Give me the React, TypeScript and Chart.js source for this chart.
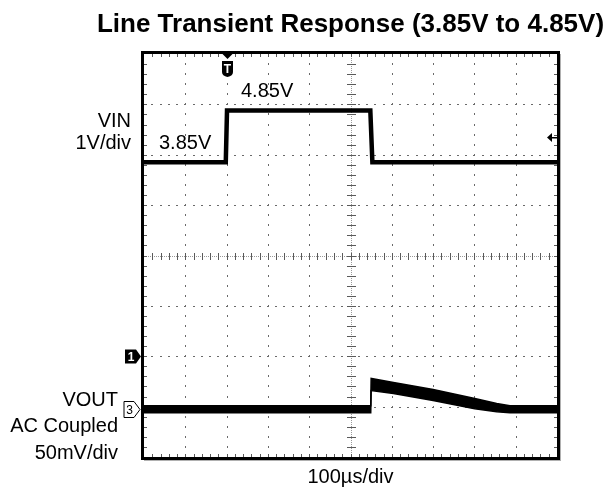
import React, { useEffect, useRef } from "react";
import { Chart, registerables } from "chart.js";

Chart.register(...registerables);

// ---- data ----
const TITLE = "Line Transient Response (3.85V to 4.85V)";
// time in µs, trigger at 0, 100 µs/div, 10 div
const timeRange = [-200, 800];
// VIN (channel 1), volts, 1 V/div
const vinTime = [-200, -2, 1, 348, 353, 800];
const vinVolts = [3.85, 3.85, 4.88, 4.88, 3.85, 3.85];
const vinRange = [-2, 6];
const triggerLevel = 4.35;
// VOUT (channel 3), AC coupled, mV, 50 mV/div: envelope of the noisy trace
const voutTime = [-200, 349, 350, 404, 500, 601, 654, 686, 800];
const voutMax = [2.8, 2.8, 30, 26, 19, 10, 5, 2.8, 2.8];
const voutMin = [-4, -4, 18, 15, 8, 0, -3, -4, -4];
const voutRange = [-48, 352];
// division counts
const xDivs = 10;
const yDivs = 8;
const minorPerDiv = 5;

const FONT = "'Liberation Sans', Arial, Helvetica, sans-serif";

const scopePlugin = {
  id: "scope",
  beforeDatasetsDraw(chart: any) {
    const { ctx, chartArea: a, scales } = chart;
    const xs = scales.x;
    const ys = scales.yVin;
    const xStep = (timeRange[1] - timeRange[0]) / xDivs;
    const yStep = (vinRange[1] - vinRange[0]) / yDivs;
    const xCenter = timeRange[0] + xStep * (xDivs / 2);
    const yCenter = vinRange[0] + yStep * (yDivs / 2);
    ctx.save();
    // dotted major vertical lines
    ctx.fillStyle = "#6a6a6a";
    for (let i = 1; i < xDivs; i++) {
      if (i === xDivs / 2) continue;
      const px = Math.round(xs.getPixelForValue(timeRange[0] + i * xStep));
      for (let j = 1; j < yDivs * minorPerDiv; j++) {
        const py = Math.round(ys.getPixelForValue(vinRange[0] + (j * yStep) / minorPerDiv));
        ctx.fillRect(px, py - 1, 1, 2);
      }
    }
    // dotted major horizontal lines
    for (let j = 1; j < yDivs; j++) {
      if (j === yDivs / 2) continue;
      const py = Math.round(ys.getPixelForValue(vinRange[0] + j * yStep));
      for (let i = 1; i < xDivs * minorPerDiv; i++) {
        const px = Math.round(xs.getPixelForValue(timeRange[0] + (i * xStep) / minorPerDiv));
        ctx.fillRect(px - 1, py, 2, 1);
      }
    }
    // center cross: fine dotted lines with ticks
    const cx = Math.round(xs.getPixelForValue(xCenter));
    const cy = Math.round(ys.getPixelForValue(yCenter));
    ctx.fillStyle = "#9a9a9a";
    for (let x = Math.round(a.left); x < a.right; x += 2) ctx.fillRect(x, cy, 1, 1);
    for (let y = Math.round(a.top); y < a.bottom; y += 2) ctx.fillRect(cx, y, 1, 1);
    ctx.fillStyle = "#5a5a5a";
    for (let i = 1; i < xDivs * minorPerDiv; i++) {
      const px = Math.round(xs.getPixelForValue(timeRange[0] + (i * xStep) / minorPerDiv));
      ctx.fillRect(px, cy - 3, 1, 7);
      ctx.fillRect(px, a.top, 1, 3);
      ctx.fillRect(px, a.bottom - 3, 1, 3);
    }
    for (let j = 1; j < yDivs * minorPerDiv; j++) {
      const py = Math.round(ys.getPixelForValue(vinRange[0] + (j * yStep) / minorPerDiv));
      ctx.fillRect(cx - 4, py, 9, 1);
      ctx.fillRect(a.left, py, 3, 1);
      ctx.fillRect(a.right - 3, py, 3, 1);
    }
    ctx.restore();
  },
  afterDatasetsDraw(chart: any) {
    const { ctx, chartArea: a, scales } = chart;
    const xs = scales.x;
    const yv = scales.yVin;
    const yo = scales.yOut;
    const midX = (a.left + a.right) / 2;
    ctx.save();
    // title
    ctx.fillStyle = "#000";
    ctx.font = `bold 26px ${FONT}`;
    ctx.textAlign = "center";
    ctx.textBaseline = "alphabetic";
    ctx.fillText(TITLE, midX, 32);

    // frame
    ctx.strokeStyle = "#000";
    ctx.lineWidth = 3;
    ctx.strokeRect(a.left - 1.5, a.top - 1.5, a.right - a.left + 3, a.bottom - a.top + 3);
    ctx.fillStyle = "#b0b0b0";
    ctx.fillRect(a.right + 3, a.top, 1, a.bottom - a.top + 4);
    ctx.fillRect(a.left, a.bottom + 3, a.right - a.left + 4, 1);

    // trigger position marker (T)
    const tx = Math.round(xs.getPixelForValue(0)) + 0.5;
    ctx.fillStyle = "#000";
    ctx.beginPath();
    ctx.moveTo(tx - 5, a.top);
    ctx.lineTo(tx + 5, a.top);
    ctx.lineTo(tx, a.top + 5);
    ctx.closePath();
    ctx.fill();
    ctx.beginPath();
    ctx.moveTo(tx - 5.5, a.top + 7);
    ctx.lineTo(tx + 5.5, a.top + 7);
    ctx.lineTo(tx + 5.5, a.top + 18);
    ctx.quadraticCurveTo(tx + 5.5, a.top + 22, tx, a.top + 23);
    ctx.quadraticCurveTo(tx - 5.5, a.top + 22, tx - 5.5, a.top + 18);
    ctx.closePath();
    ctx.fill();
    ctx.fillStyle = "#fff";
    ctx.font = `bold 12px ${FONT}`;
    ctx.fillText("T", tx, a.top + 19);

    // trigger level arrow (right edge)
    const ty = Math.round(yv.getPixelForValue(triggerLevel)) + 0.5;
    ctx.fillStyle = "#000";
    ctx.beginPath();
    ctx.moveTo(a.right - 10, ty);
    ctx.lineTo(a.right - 5, ty - 4.5);
    ctx.lineTo(a.right - 5, ty + 4.5);
    ctx.closePath();
    ctx.fill();
    ctx.fillRect(a.right - 6, ty - 0.5, 6, 1.5);

    // channel 1 ground marker
    const g1 = Math.round(yv.getPixelForValue(0)) + 0.5;
    const ml = a.left - 19;
    ctx.beginPath();
    ctx.moveTo(ml, g1 - 7);
    ctx.lineTo(ml + 11, g1 - 7);
    ctx.lineTo(a.left - 3, g1);
    ctx.lineTo(ml + 11, g1 + 7);
    ctx.lineTo(ml, g1 + 7);
    ctx.closePath();
    ctx.fill();
    ctx.fillStyle = "#fff";
    ctx.font = `bold 12px ${FONT}`;
    ctx.fillText("1", ml + 6, g1 + 4.5);

    // channel 3 ground marker
    const g3 = Math.round(yo.getPixelForValue(0)) + 0.5;
    const m3 = a.left - 20;
    ctx.beginPath();
    ctx.moveTo(m3, g3 - 8);
    ctx.lineTo(m3 + 10, g3 - 8);
    ctx.lineTo(a.left - 4, g3);
    ctx.lineTo(m3 + 10, g3 + 8);
    ctx.lineTo(m3, g3 + 8);
    ctx.closePath();
    ctx.fillStyle = "#fff";
    ctx.fill();
    ctx.strokeStyle = "#000";
    ctx.lineWidth = 1;
    ctx.stroke();
    ctx.fillStyle = "#000";
    ctx.font = `12px ${FONT}`;
    ctx.fillText("3", m3 + 5.5, g3 + 4.5);

    // annotations
    ctx.fillStyle = "#000";
    ctx.font = `20px ${FONT}`;
    ctx.textAlign = "right";
    ctx.fillText("VIN", 131, 127);
    ctx.fillText("1V/div", 131, 149);
    ctx.fillText("VOUT", 118, 406);
    ctx.fillText("AC Coupled", 118, 432);
    ctx.fillText("50mV/div", 118, 459);
    ctx.textAlign = "left";
    ctx.fillText("3.85V", 159, 149);
    ctx.fillText("4.85V", 241, 97);
    ctx.textAlign = "center";
    ctx.fillText("100\u00b5s/div", midX, 483);
    ctx.restore();
  },
};

export default function App() {
  const ref = useRef<HTMLCanvasElement>(null);
  useEffect(() => {
    const chart = new Chart(ref.current as HTMLCanvasElement, {
      type: "line",
      data: {
        datasets: [
          {
            label: "VIN",
            data: vinTime.map((t, i) => ({ x: t, y: vinVolts[i] })),
            yAxisID: "yVin",
            borderColor: "#000",
            borderWidth: 4.5,
            pointRadius: 0,
            fill: false,
            tension: 0,
          },
          {
            label: "VOUT max",
            data: voutTime.map((t, i) => ({ x: t, y: voutMax[i] })),
            yAxisID: "yOut",
            borderColor: "#000",
            borderWidth: 1.5,
            pointRadius: 0,
            fill: false,
            tension: 0,
          },
          {
            label: "VOUT min",
            data: voutTime.map((t, i) => ({ x: t, y: voutMin[i] })),
            yAxisID: "yOut",
            borderColor: "#000",
            backgroundColor: "#000",
            borderWidth: 1.5,
            pointRadius: 0,
            fill: "-1",
            tension: 0,
          },
        ],
      },
      options: {
        responsive: false,
        devicePixelRatio: 1,
        animation: false,
        layout: { padding: { left: 144, right: 56, top: 54, bottom: 37 } },
        scales: {
          x: { type: "linear", min: timeRange[0], max: timeRange[1], display: false },
          yVin: { type: "linear", min: vinRange[0], max: vinRange[1], display: false },
          yOut: { type: "linear", min: voutRange[0], max: voutRange[1], display: false },
        },
        plugins: {
          legend: { display: false },
          tooltip: { enabled: false },
          title: { display: false },
        },
      },
      plugins: [scopePlugin],
    } as any);
    return () => chart.destroy();
  }, []);
  return (
    <div style={{ position: "absolute", left: 0, top: 0, width: 613, height: 494, background: "#fff" }}>
      <canvas ref={ref} width={613} height={494} style={{ display: "block", width: 613, height: 494 }} />
    </div>
  );
}
